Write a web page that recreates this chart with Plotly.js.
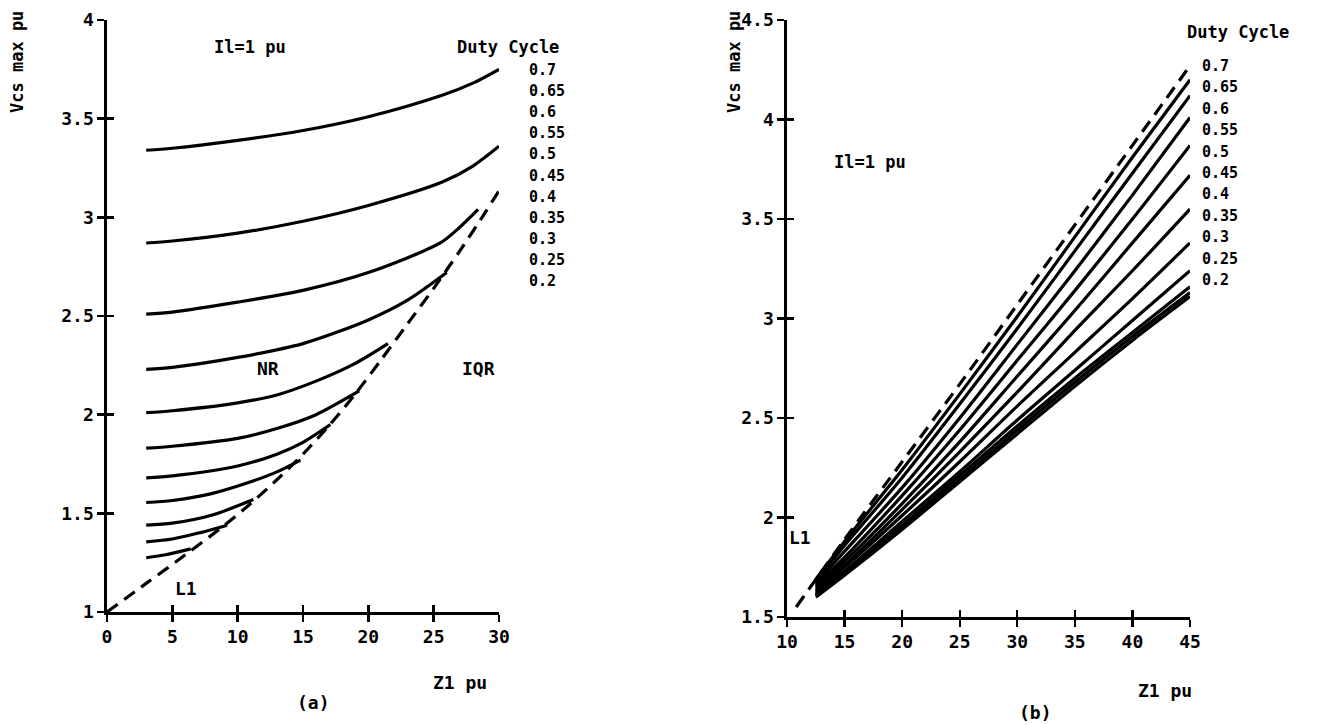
<!DOCTYPE html>
<html><head><meta charset="utf-8">
<script src="https://cdn.plot.ly/plotly-3.0.1.min.js"></script>
<style>html,body{margin:0;padding:0;background:#fff}#chart{width:1321px;height:725px}</style>
</head><body><div id="chart"></div>
<script>
// ---------- labels ----------
const dutyLabels = ['0.7','0.65','0.6','0.55','0.5','0.45','0.4','0.35','0.3','0.25','0.2'];
const xTickA = [0, 5, 10, 15, 20, 25, 30];
const xTickAText = ['0', '5', '10', '15', '20', '25', '30'];
const xTickB = [10, 15, 20, 25, 30, 35, 40, 45];
const xTickBText = ['10', '15', '20', '25', '30', '35', '40', '45'];

// ---------- panel (a): Vcs max vs Z1, x 0..30 ----------
const a70x = [3, 5, 10, 15, 20, 25.7, 28, 30];
const a70y = [3.34, 3.35, 3.39, 3.44, 3.51, 3.62, 3.68, 3.75];
const a65x = [3, 5, 10, 15, 20, 25.7, 28, 30];
const a65y = [2.87, 2.88, 2.92, 2.98, 3.06, 3.18, 3.26, 3.36];
const a60x = [3, 5, 10, 15, 20, 25.5, 27, 28.4];
const a60y = [2.51, 2.52, 2.57, 2.63, 2.72, 2.87, 2.95, 3.04];
const a55x = [3, 5, 10, 15, 20, 23, 26];
const a55y = [2.23, 2.24, 2.29, 2.36, 2.48, 2.58, 2.72];
const a50x = [3, 5, 10, 13, 16, 19, 21.5];
const a50y = [2.01, 2.02, 2.06, 2.10, 2.17, 2.26, 2.36];
const a45x = [3, 5, 10, 13, 16, 19.3];
const a45y = [1.83, 1.84, 1.88, 1.93, 2.00, 2.12];
const a40x = [3, 5, 10, 13, 15, 17.1];
const a40y = [1.68, 1.69, 1.74, 1.80, 1.86, 1.95];
const a35x = [3, 5, 8, 11, 13, 14.8];
const a35y = [1.555, 1.565, 1.60, 1.66, 1.71, 1.77];
const a30x = [3, 5, 8, 11.2];
const a30y = [1.44, 1.45, 1.49, 1.57];
const a25x = [3, 5, 7, 9.2];
const a25y = [1.355, 1.37, 1.40, 1.44];
const a20x = [3, 4.5, 6.4];
const a20y = [1.275, 1.29, 1.32];
const aL1x = [0, 3, 6, 9, 11, 13, 15, 17, 19, 21, 23, 25, 27, 29, 30];
const aL1y = [1.00, 1.145, 1.29, 1.44, 1.55, 1.67, 1.80, 1.945, 2.105, 2.28, 2.46, 2.64, 2.83, 3.03, 3.135];

// ---------- panel (b): Vcs max vs Z1, x 10..45 ----------
const bX = [12.5, 15, 20, 25, 30, 35, 40, 45];
const b70 = [1.69, 1.88, 2.24, 2.62, 3.01, 3.41, 3.81, 4.20];
const b65 = [1.68, 1.86, 2.20, 2.57, 2.95, 3.34, 3.73, 4.12];
const b60 = [1.67, 1.83, 2.15, 2.50, 2.87, 3.24, 3.62, 4.01];
const b55 = [1.66, 1.80, 2.11, 2.44, 2.79, 3.14, 3.50, 3.87];
const b50 = [1.65, 1.78, 2.07, 2.38, 2.71, 3.04, 3.38, 3.72];
const b45 = [1.64, 1.76, 2.04, 2.33, 2.63, 2.94, 3.24, 3.55];
const b40 = [1.63, 1.75, 2.01, 2.28, 2.56, 2.83, 3.10, 3.38];
const b35 = [1.62, 1.73, 1.98, 2.23, 2.49, 2.74, 2.99, 3.24];
const b30 = [1.61, 1.72, 1.96, 2.21, 2.46, 2.70, 2.93, 3.16];
const b25 = [1.61, 1.72, 1.95, 2.19, 2.44, 2.68, 2.91, 3.13];
const b20 = [1.60, 1.71, 1.94, 2.18, 2.42, 2.66, 2.89, 3.11];
const bL1x = [10.8, 15, 20, 25, 30, 35, 40, 45];
const bL1y = [1.55, 1.89, 2.28, 2.67, 3.07, 3.47, 3.87, 4.27];

// ---------- build ----------
const W = 1321, H = 725;
const px = p => p / W, py = p => 1 - p / H;
const FONT = 'DejaVu Sans Mono';
const solid = {color: '#000', width: 3.2, shape: 'spline', smoothing: 0.8};
const dashed = {color: '#000', width: 3.2, dash: '13px,8px', shape: 'spline', smoothing: 0.8};

const aSets = [[a70x,a70y],[a65x,a65y],[a60x,a60y],[a55x,a55y],[a50x,a50y],[a45x,a45y],
               [a40x,a40y],[a35x,a35y],[a30x,a30y],[a25x,a25y],[a20x,a20y]];
const bSets = [b70,b65,b60,b55,b50,b45,b40,b35,b30,b25,b20];

const traces = [];
aSets.forEach((s, i) => traces.push({x: s[0], y: s[1], mode: 'lines', line: solid,
  name: 'a ' + dutyLabels[i], xaxis: 'x', yaxis: 'y', hoverinfo: 'skip'}));
traces.push({x: aL1x, y: aL1y, mode: 'lines', line: dashed, name: 'a L1', xaxis: 'x', yaxis: 'y', hoverinfo: 'skip'});
bSets.forEach((s, i) => traces.push({x: bX, y: s, mode: 'lines', line: solid,
  name: 'b ' + dutyLabels[i], xaxis: 'x2', yaxis: 'y2', hoverinfo: 'skip'}));
traces.push({x: bL1x, y: bL1y, mode: 'lines', line: dashed, name: 'b L1', xaxis: 'x2', yaxis: 'y2', hoverinfo: 'skip'});
// invisible anchors for the inside-tick overlay axes
traces.push({x: [aL1x[0]], y: [aL1y[0]], mode: 'markers', marker: {opacity: 0}, xaxis: 'x3', yaxis: 'y3', hoverinfo: 'skip'});
traces.push({x: [bL1x[0]], y: [bL1y[0]], mode: 'markers', marker: {opacity: 0}, xaxis: 'x4', yaxis: 'y4', hoverinfo: 'skip'});

const tickFont = {family: FONT, size: 18, color: '#000', weight: 'bold'};
const baseAx = {showline: true, linecolor: '#000', linewidth: 2.6, ticks: 'outside', ticklen: 7,
  tickwidth: 2.4, tickcolor: '#000', showgrid: false, zeroline: false, tickfont: tickFont, fixedrange: true};
const insideAx = {showline: false, ticks: 'inside', ticklen: 7, tickwidth: 2.4, tickcolor: '#000',
  showgrid: false, zeroline: false, showticklabels: false, fixedrange: true};

const domAx = [px(107), px(499)], domAy = [py(612), py(20)];
const domBx = [px(787), px(1190)], domBy = [py(617), py(20)];

const ann = [];
const txt = (x, y, t, size, extra) => ann.push(Object.assign({xref: 'paper', yref: 'paper', x: px(x), y: py(y),
  text: t, showarrow: false, xanchor: 'center', yanchor: 'middle',
  font: {family: FONT, size: size, color: '#000', weight: 'bold'}}, extra || {}));

// panel a texts
txt(17, 62, 'Vcs max pu', 17, {textangle: -90});
txt(250, 47, 'Il=1 pu', 17);
txt(508, 47, 'Duty Cycle', 17);
dutyLabels.forEach((t, i) => txt(527, 70 + i * 21.1, t, 15, {xanchor: 'left'}));
txt(268, 368, 'NR', 18);
txt(478, 368, 'IQR', 18);
txt(186, 588, 'L1', 18);
txt(460, 682, 'Z1 pu', 18);
txt(313, 702, '(a)', 18);
// panel b texts
txt(734, 62, 'Vcs max pu', 17, {textangle: -90});
txt(870, 162, 'Il=1 pu', 17);
txt(1238, 32, 'Duty Cycle', 17);
dutyLabels.forEach((t, i) => txt(1200, 66 + i * 21.4, t, 15, {xanchor: 'left'}));
txt(800, 537, 'L1', 18);
txt(1165, 690, 'Z1 pu', 18);
txt(1035, 712, '(b)', 18);

const layout = {
  width: W, height: H, margin: {l: 0, r: 0, t: 0, b: 0}, showlegend: false,
  paper_bgcolor: '#fff', plot_bgcolor: 'rgba(0,0,0,0)',
  xaxis: Object.assign({}, baseAx, {domain: domAx, range: [0, 30], anchor: 'y', tickvals: xTickA, ticktext: xTickAText}),
  yaxis: Object.assign({}, baseAx, {domain: domAy, range: [1, 4], anchor: 'x', dtick: 0.5, tick0: 1}),
  xaxis2: Object.assign({}, baseAx, {domain: domBx, range: [10, 45], anchor: 'y2', tickvals: xTickB, ticktext: xTickBText}),
  yaxis2: Object.assign({}, baseAx, {domain: domBy, range: [1.5, 4.5], anchor: 'x2', dtick: 0.5, tick0: 1.5}),
  xaxis3: Object.assign({}, insideAx, {domain: domAx, range: [0, 30], anchor: 'y3', tickvals: xTickA}),
  yaxis3: Object.assign({}, insideAx, {domain: domAy, range: [1, 4], anchor: 'x3', dtick: 0.5, tick0: 1}),
  xaxis4: Object.assign({}, insideAx, {domain: domBx, range: [10, 45], anchor: 'y4', tickvals: xTickB}),
  yaxis4: Object.assign({}, insideAx, {domain: domBy, range: [1.5, 4.5], anchor: 'x4', dtick: 0.5, tick0: 1.5}),
  annotations: ann
};
Plotly.newPlot('chart', traces, layout, {displayModeBar: false, staticPlot: true});
</script></body></html>
